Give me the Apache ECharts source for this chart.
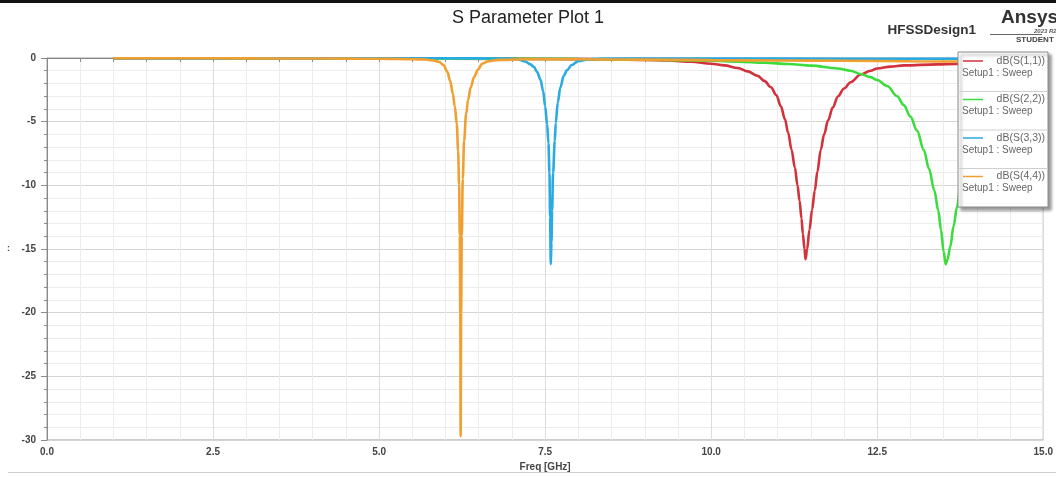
<!DOCTYPE html>
<html>
<head>
<meta charset="utf-8">
<script src="https://cdn.jsdelivr.net/npm/echarts@6/dist/echarts.min.js"></script>
<style>
  html, body { margin: 0; padding: 0; background: #fff; overflow: hidden; }
  #chart { width: 1056px; height: 477px; }
</style>
</head>
<body>
<div id="chart"></div>
<script>
// Return loss sweep, dB(S(n,n)) vs frequency (GHz)
const seriesNames = ['dB(S(1,1))', 'dB(S(2,2))', 'dB(S(3,3))', 'dB(S(4,4))'];
const sweepLabel = 'Setup1 : Sweep';
const xTicks = [0, 2.5, 5, 7.5, 10, 12.5, 15];
const yTicks = [0, -5, -10, -15, -20, -25, -30];

const s11Freq = [1.0, 3.0, 5.0, 7.0, 8.0, 8.5, 9.0, 9.35, 9.7, 10.0, 10.2, 10.4, 10.55, 10.7, 10.8, 10.9, 10.98, 11.05, 11.11, 11.16, 11.21, 11.26, 11.3, 11.33, 11.36, 11.38, 11.405, 11.42, 11.445, 11.48, 11.52, 11.56, 11.6, 11.65, 11.7, 11.76, 11.83, 11.91, 12.0, 12.1, 12.25, 12.4, 12.5, 12.7, 12.9, 13.4, 13.7, 14.2, 15.0];
const s11dB   = [-0.03, -0.04, -0.05, -0.07, -0.09, -0.11, -0.15, -0.2, -0.3, -0.45, -0.58, -0.78, -1.05, -1.4, -1.8, -2.3, -2.9, -3.8, -4.8, -5.9, -7.2, -8.6, -10.0, -11.2, -12.6, -13.8, -15.0, -15.8, -15.0, -13.5, -11.9, -10.4, -8.9, -7.2, -6.0, -4.9, -3.9, -3.0, -2.4, -1.9, -1.3, -1.0, -0.82, -0.68, -0.58, -0.5, -0.46, -0.44, -0.42];

const s22Freq = [1.0, 5.0, 7.0, 8.0, 9.0, 9.5, 10.0, 10.4, 10.8, 11.16, 11.5, 11.9, 12.1, 12.25, 12.4, 12.5, 12.65, 12.8, 12.9, 13.0, 13.1, 13.2, 13.28, 13.36, 13.42, 13.46, 13.5, 13.53, 13.56, 13.6, 13.65, 13.7, 13.76, 13.85, 14.0, 14.2, 14.5, 14.8, 15.0];
const s22dB   = [-0.02, -0.04, -0.06, -0.08, -0.13, -0.17, -0.22, -0.29, -0.37, -0.47, -0.6, -0.82, -1.0, -1.26, -1.5, -1.73, -2.2, -3.0, -3.7, -4.6, -5.7, -7.2, -8.7, -10.4, -12.0, -13.5, -15.2, -16.2, -15.8, -14.8, -13.2, -11.7, -9.8, -7.5, -5.0, -3.2, -2.0, -1.5, -1.3];

const s33Freq = [1.0, 3.0, 5.0, 6.5, 7.0, 7.1, 7.2, 7.28, 7.33, 7.38, 7.43, 7.47, 7.5, 7.53, 7.55, 7.565, 7.575, 7.585, 7.595, 7.605, 7.62, 7.645, 7.66, 7.69, 7.73, 7.78, 7.83, 7.9, 8.0, 8.15, 8.3, 9.0, 11.0, 13.0, 15.0];
const s33dB   = [-0.02, -0.02, -0.02, -0.03, -0.05, -0.12, -0.28, -0.5, -0.7, -1.1, -1.7, -2.6, -3.8, -5.2, -6.7, -9.0, -12.5, -16.2, -14.5, -12.0, -9.0, -6.5, -5.1, -3.5, -2.3, -1.4, -0.95, -0.55, -0.25, -0.12, -0.06, -0.04, -0.05, -0.06, -0.08];

const s44Freq = [1.0, 2.0, 3.0, 4.0, 4.5, 5.0, 5.3, 5.5, 5.7, 5.8, 5.9, 5.97, 6.03, 6.07, 6.11, 6.14, 6.17, 6.19, 6.205, 6.215, 6.223, 6.228, 6.235, 6.245, 6.26, 6.28, 6.31, 6.34, 6.38, 6.43, 6.49, 6.55, 6.65, 6.8, 7.2, 8.0, 9.0, 10.0, 11.0, 12.0, 13.0, 14.0, 15.0];
const s44dB   = [-0.02, -0.02, -0.03, -0.04, -0.05, -0.06, -0.08, -0.1, -0.12, -0.18, -0.3, -0.55, -1.1, -1.8, -2.8, -3.8, -5.2, -7.3, -10.0, -14.0, -20.0, -29.7, -20.0, -14.0, -9.5, -6.5, -4.4, -3.3, -2.3, -1.5, -0.9, -0.45, -0.25, -0.15, -0.1, -0.1, -0.13, -0.17, -0.2, -0.22, -0.26, -0.28, -0.3];

const seriesColors = ['#d2323c', '#3ddc3d', '#2aaae2', '#f0a031'];
const freqSets = [s11Freq, s22Freq, s33Freq, s44Freq];
const dbSets = [s11dB, s22dB, s33dB, s44dB];

const FONT = '"Liberation Sans", Arial, sans-serif';
const chart = echarts.init(document.getElementById('chart'), null, { renderer: 'canvas' });

const series = seriesNames.map((name, i) => ({
  name: name,
  type: 'line',
  data: freqSets[i].map((f, k) => [f, dbSets[i][k]]),
  showSymbol: false,
  smooth: 0.35,
  smoothMonotone: 'x',
  lineStyle: { color: seriesColors[i], width: 2.6 },
  itemStyle: { color: seriesColors[i] },
  z: 2 + i
}));

// Legend panel drawn above the traces: swatch, trace name and sweep label per block
const LZ = 200;
const legendLeft = 958, legendTop = 52, legendW = 90, legendH = 155, rowH = 38.5;
const legendChildren = [{
  type: 'rect', z: LZ,
  shape: { x: legendLeft, y: legendTop, width: legendW, height: legendH },
  style: {
    fill: '#ffffff', stroke: '#8a8a8a', lineWidth: 1,
    shadowBlur: 3, shadowOffsetX: 3, shadowOffsetY: 3, shadowColor: 'rgba(0,0,0,0.4)'
  }
}];
seriesNames.forEach((name, i) => {
  const y0 = legendTop + 9 + rowH * i;
  legendChildren.push({
    type: 'line', z: LZ + 1,
    shape: { x1: 963, y1: y0, x2: 983, y2: y0 },
    style: { stroke: seriesColors[i], lineWidth: 1.5 }
  });
  legendChildren.push({
    type: 'text', z: LZ + 1,
    x: 1045, y: y0,
    style: { text: name, font: '10.5px ' + FONT, fill: '#666', align: 'right', verticalAlign: 'middle' }
  });
  legendChildren.push({
    type: 'text', z: LZ + 1,
    x: 962, y: y0 + 12,
    style: { text: sweepLabel, font: '10px ' + FONT, fill: '#666', align: 'left', verticalAlign: 'middle' }
  });
  if (i < seriesNames.length - 1) {
    const ys = legendTop + 39.5 + rowH * i;
    legendChildren.push({
      type: 'line', z: LZ + 1,
      shape: { x1: legendLeft, y1: ys, x2: legendLeft + legendW, y2: ys },
      style: { stroke: '#cfcfcf', lineWidth: 1 }
    });
  }
});

const option = {
  animation: false,
  backgroundColor: '#ffffff',
  title: {
    text: 'S Parameter Plot 1',
    left: 'center',
    top: 4,
    textStyle: { fontFamily: FONT, fontSize: 18, fontWeight: 'normal', color: '#222' }
  },
  grid: {
    left: 47, right: 9, top: 58, bottom: 33,
    show: true, borderColor: '#9a9a9a', borderWidth: 1, backgroundColor: 'transparent'
  },
  xAxis: {
    type: 'value',
    min: xTicks[0], max: xTicks[xTicks.length - 1], interval: 2.5,
    name: 'Freq [GHz]',
    nameLocation: 'middle',
    nameGap: 22,
    nameTextStyle: { fontFamily: FONT, fontSize: 10, fontWeight: 'bold', color: '#444' },
    axisLine: { show: true, lineStyle: { color: '#8a8a8a', width: 1 } },
    axisTick: { show: true, length: 4, lineStyle: { color: '#8a8a8a' } },
    minorTick: { show: true, splitNumber: 5, length: 4, lineStyle: { color: '#8a8a8a' } },
    axisLabel: {
      margin: 7, fontFamily: FONT, fontSize: 10, fontWeight: 'bold', color: '#444',
      formatter: v => v.toFixed(1)
    },
    splitLine: { show: true, lineStyle: { color: '#dcdcdc', width: 1 } },
    minorSplitLine: { show: true, lineStyle: { color: '#ececec', width: 1 } }
  },
  yAxis: {
    type: 'value',
    min: yTicks[yTicks.length - 1], max: yTicks[0], interval: 5,
    axisLine: { show: true, lineStyle: { color: '#8a8a8a', width: 1 } },
    axisTick: { show: true, length: 6, lineStyle: { color: '#8a8a8a' } },
    minorTick: { show: true, splitNumber: 5, length: 3, lineStyle: { color: '#8a8a8a' } },
    axisLabel: { margin: 11, fontFamily: FONT, fontSize: 10, fontWeight: 'bold', color: '#444' },
    splitLine: { show: true, lineStyle: { color: '#d4d4d4', width: 1 } },
    minorSplitLine: { show: true, lineStyle: { color: '#ececec', width: 1 } }
  },
  series: series,
  graphic: [
    // dark band along the top edge
    { type: 'rect', z: 300, shape: { x: 0, y: 0, width: 1056, height: 3 }, style: { fill: '#111' } },
    // rule under the axis title
    { type: 'line', shape: { x1: 8, y1: 472.5, x2: 1056, y2: 472.5 }, style: { stroke: '#cfcfcf', lineWidth: 1 } },
    { type: 'text', x: 7, y: 249, style: { text: ':', font: 'bold 9px ' + FONT, fill: '#444', verticalAlign: 'middle' } },
    { type: 'text', x: 976, y: 30, style: { text: 'HFSSDesign1', font: 'bold 13.5px ' + FONT, fill: '#333', align: 'right', verticalAlign: 'middle' } },
    { type: 'text', x: 1001, y: 18, style: { text: 'Ansys', font: 'bold 19px ' + FONT, fill: '#333', align: 'left', verticalAlign: 'middle' } },
    { type: 'line', shape: { x1: 990, y1: 34.5, x2: 1042, y2: 34.5 }, style: { stroke: '#666', lineWidth: 1 } },
    { type: 'text', x: 1034, y: 31, style: { text: '2023 R2', font: 'italic bold 6px ' + FONT, fill: '#555', align: 'left', verticalAlign: 'middle' } },
    { type: 'text', x: 1016, y: 40, style: { text: 'STUDENT', font: 'bold 8px ' + FONT, fill: '#444', align: 'left', verticalAlign: 'middle' } },
    { type: 'group', z: LZ, children: legendChildren }
  ]
};
chart.setOption(option);
</script>
</body>
</html>
